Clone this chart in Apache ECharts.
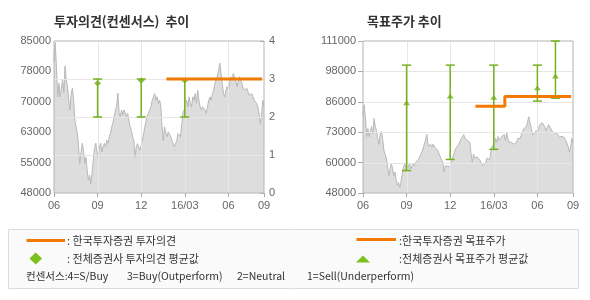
<!DOCTYPE html>
<html><head><meta charset="utf-8">
<script src="https://cdn.jsdelivr.net/npm/echarts@6/dist/echarts.min.js"></script>
<style>html,body{margin:0;padding:0;background:#fff}#c{width:590px;height:300px}</style>
</head><body><div id="c"></div><script>
// Closing price (2015-06 ~ 2016-09)
const price = [
80000,84600,78700,71400,74700,71400,73500,75500,72500,78900,
75500,73900,70600,68200,72300,73500,70600,65700,64100,62500,
59200,55200,57700,60100,58400,55200,56700,53500,51100,52300,
50300,52800,56000,58900,60100,58000,56700,59200,60100,58000,
59200,60100,59200,60800,60100,61700,62500,64100,65000,66600,
68200,69000,72300,67400,66600,68200,67000,68200,68600,66600,
67400,65700,64100,63300,61700,60800,56800,59200,60000,59200,
58400,58800,60800,62500,64100,65700,66900,66600,68200,69000,
70600,71400,72200,70600,71400,69800,70600,69000,64100,60800,
64100,62500,61700,62900,62500,61700,60800,60000,59200,60000,
60800,62500,62900,61700,62100,67400,68200,67800,70600,69000,
71400,69800,69000,71400,70600,72200,69800,73000,70600,69000,
68200,69000,69400,68200,67400,69000,70600,71400,70600,72200,
73000,74700,75500,75500,77500,79600,77100,74700,72200,71400,
73000,73900,73000,74700,76300,75500,77100,77500,75500,73900,
75000,76300,75500,74700,73500,73900,73000,73500,72600,71800,
71400,72200,71400,70600,71000,69800,69000,67400,64900,66900,
70600,69000
];
const xTickPos = [0, 35.5, 71, 106.5, 142, 171];
const xTickLabels = ['06','09','12','16/03','06','09'];
const leftPriceTicks = [48000,55400,62800,70200,77600,85000];
const leftPriceLabels = ['48000','55000','63000','70000','78000','85000'];
const opinionTicks = [1,2,3];
const rightPriceTicks = [48000,60600,73200,85800,98400,111000];
const rightPriceLabels = ['48000','60000','73000','86000','98000','111000'];

// 전체증권사 투자의견 (range & average)
const opinionX = [35.5, 71, 106.5];
const opinionHigh = [3, 3, 3];
const opinionLow = [2, 2, 2];
const opinionAvg = [2.89, 2.96, 2.96];
// 한국투자증권 투자의견
const kisOpinionX = [91.5, 169.5];
const kisOpinion = [3, 3];

// 전체증권사 목표주가 (range & average)
const targetX = [35.5, 71, 106.5, 142, 156.7];
const targetHigh = [101000, 101000, 101000, 101000, 111000];
const targetLow = [57300, 61900, 66100, 86100, 87300];
const targetAvg = [85400, 88200, 87700, 91600, 96500];
// 한국투자증권 목표주가
const kisTargetX = [91.5, 115.5, 169.5];
const kisTarget = [84000, 88000, 88000];

const GREEN = '#74b21a';
const ORANGE = '#f27a00';
const GRIDC = '#e7e7e7';
const LABEL = {color:'#666', fontSize:11, fontFamily:'Liberation Sans, Arial'};

function errRender(params, api){
  const x = api.value(0), lo = api.value(1), hi = api.value(2);
  const a = api.coord([x, hi]), b = api.coord([x, lo]);
  const w = 4.5;
  const style = {stroke: GREEN, lineWidth: 1.5, fill: null};
  return {type:'group', children:[
    {type:'line', shape:{x1:a[0],y1:a[1],x2:b[0],y2:b[1]}, style:style},
    {type:'line', shape:{x1:a[0]-w,y1:a[1],x2:a[0]+w,y2:a[1]}, style:style},
    {type:'line', shape:{x1:b[0]-w,y1:b[1],x2:b[0]+w,y2:b[1]}, style:style}
  ]};
}
// grid lines drawn on top of the price area (as in the reference)
function gridLineRender(dim){
  return function(params, api){
    const p = api.coord([api.value(0), api.value(1)]);
    const cs = params.coordSys;
    let shape;
    if (dim === 'x') {
      shape = {x1:Math.round(p[0])+0.5, y1:cs.y, x2:Math.round(p[0])+0.5, y2:cs.y+cs.height};
    } else {
      shape = {x1:cs.x, y1:Math.round(p[1])+0.5, x2:cs.x+cs.width, y2:Math.round(p[1])+0.5};
    }
    return {type:'line', shape:shape, style:{stroke:GRIDC, lineWidth:1}};
  };
}
const priceData = price.map((v,i)=>[i,v]);

function xAxisFor(g){
  return {type:'value', gridIndex:g, min:0, max:171,
    axisLine:{show:false},
    axisTick:{show:true, customValues:xTickPos, length:4, lineStyle:{color:'#aaa'}},
    axisLabel:Object.assign({customValues:xTickPos, margin:7,
      formatter:(v)=>{const k=xTickPos.indexOf(v);return k>=0?xTickLabels[k]:'';}}, LABEL),
    splitLine:{show:false}};
}

const chart = echarts.init(document.getElementById('c'), null, {renderer:'canvas'});
chart.setOption({
  animation:false,
  backgroundColor:'#fff',
  grid:[
    {left:54, top:41, width:210, height:152, show:true, borderColor:'#b4b4b4', borderWidth:1, backgroundColor:'transparent', z:4},
    {left:363, top:41, width:210, height:152, show:true, borderColor:'#b4b4b4', borderWidth:1, backgroundColor:'transparent', z:4}
  ],
  xAxis:[xAxisFor(0), xAxisFor(1)],
  yAxis:[
    {type:'value', gridIndex:0, position:'left', min:48000, max:85000,
      axisLine:{show:false}, axisTick:{show:false, customValues:leftPriceTicks},
      axisLabel:Object.assign({customValues:leftPriceTicks, margin:3,
        formatter:(v)=>{const k=leftPriceTicks.indexOf(v);return k>=0?leftPriceLabels[k]:'';}}, LABEL),
      splitLine:{show:false}},
    {type:'value', gridIndex:0, position:'right', min:0, max:4, interval:1,
      axisLine:{show:false}, axisTick:{show:true, inside:true, length:4, lineStyle:{color:'#aaa'}},
      axisLabel:Object.assign({margin:5}, LABEL),
      splitLine:{show:false}},
    {type:'value', gridIndex:1, position:'left', min:48000, max:111000,
      axisLine:{show:false}, axisTick:{show:true, customValues:rightPriceTicks, length:5, lineStyle:{color:'#aaa'}},
      axisLabel:Object.assign({customValues:rightPriceTicks, margin:7,
        formatter:(v)=>{const k=rightPriceTicks.indexOf(v);return k>=0?rightPriceLabels[k]:'';}}, LABEL),
      splitLine:{show:false}}
  ],
  series:[
    {type:'line', xAxisIndex:0, yAxisIndex:0, data:priceData, symbol:'none', z:1,
      lineStyle:{color:'#b8b8b8', width:1}, areaStyle:{color:'#dddddd', origin:'start', opacity:1}},
    {type:'custom', xAxisIndex:0, yAxisIndex:0, renderItem:gridLineRender('x'), z:2, silent:true, clip:false,
      data:xTickPos.slice(1,-1).map(x=>[x, 60000])},
    {type:'custom', xAxisIndex:0, yAxisIndex:1, renderItem:gridLineRender('y'), z:2, silent:true, clip:false,
      data:opinionTicks.map(v=>[50, v])},
    {type:'custom', xAxisIndex:0, yAxisIndex:1, renderItem:errRender, z:6,
      data:opinionX.map((x,i)=>[x, opinionLow[i], opinionHigh[i]])},
    {type:'scatter', xAxisIndex:0, yAxisIndex:1, symbol:'diamond', symbolSize:[7,6], z:7,
      itemStyle:{color:GREEN}, data:opinionX.map((x,i)=>[x, opinionAvg[i]])},
    {type:'line', xAxisIndex:0, yAxisIndex:1, symbol:'none', z:8,
      lineStyle:{color:ORANGE, width:3}, data:kisOpinionX.map((x,i)=>[x, kisOpinion[i]])},

    {type:'line', xAxisIndex:1, yAxisIndex:2, data:priceData, symbol:'none', z:1,
      lineStyle:{color:'#b8b8b8', width:1}, areaStyle:{color:'#dddddd', origin:'start', opacity:1}},
    {type:'custom', xAxisIndex:1, yAxisIndex:2, renderItem:gridLineRender('x'), z:2, silent:true, clip:false,
      data:xTickPos.slice(1,-1).map(x=>[x, 60000])},
    {type:'custom', xAxisIndex:1, yAxisIndex:2, renderItem:gridLineRender('y'), z:2, silent:true, clip:false,
      data:rightPriceTicks.slice(1,-1).map(v=>[50, v])},
    {type:'custom', xAxisIndex:1, yAxisIndex:2, renderItem:errRender, z:6,
      data:targetX.map((x,i)=>[x, targetLow[i], targetHigh[i]])},
    {type:'scatter', xAxisIndex:1, yAxisIndex:2, symbol:'triangle', symbolSize:[7,5], z:7,
      itemStyle:{color:GREEN}, data:targetX.map((x,i)=>[x, targetAvg[i]])},
    {type:'line', xAxisIndex:1, yAxisIndex:2, symbol:'none', step:'end', z:8,
      lineStyle:{color:ORANGE, width:3}, data:kisTargetX.map((x,i)=>[x, kisTarget[i]])}
  ],
  graphic:[
    {type:'text', x:54, y:21, style:{text:'투자의견(컨센서스)  추이', font:'bold 13px "Noto Sans CJK KR"', fill:'#333', verticalAlign:'middle'}},
    {type:'text', x:367, y:21, style:{text:'목표주가 추이', font:'bold 13px "Noto Sans CJK KR"', fill:'#333', verticalAlign:'middle'}},
    {type:'rect', shape:{x:8.5, y:229.5, width:570, height:59}, style:{fill:'#fafafa', stroke:'#dcdcdc', lineWidth:1}, z:-1},
    {type:'line', shape:{x1:26.5, y1:240.5, x2:65, y2:240.5}, style:{stroke:ORANGE, lineWidth:3}},
    {type:'text', x:67, y:241, style:{text:': 한국투자증권 투자의견', font:'11px "Noto Sans CJK KR"', fill:'#333', verticalAlign:'middle'}},
    {type:'polygon', shape:{points:[[29.5,258.5],[35.7,252.5],[42,258.5],[35.7,264.5]]}, style:{fill:'#7cc11b'}},
    {type:'text', x:67, y:259, style:{text:': 전체증권사 투자의견 평균값', font:'11px "Noto Sans CJK KR"', fill:'#333', verticalAlign:'middle'}},
    {type:'line', shape:{x1:356.5, y1:239.5, x2:396, y2:239.5}, style:{stroke:ORANGE, lineWidth:3}},
    {type:'text', x:399, y:241, style:{text:':한국투자증권 목표주가', font:'11px "Noto Sans CJK KR"', fill:'#333', verticalAlign:'middle'}},
    {type:'polygon', shape:{points:[[356,262.5],[363,255.5],[370,262.5]]}, style:{fill:'#7cc11b'}},
    {type:'text', x:399, y:259, style:{text:':전체증권사 목표주가 평균값', font:'11px "Noto Sans CJK KR"', fill:'#333', verticalAlign:'middle'}},
    {type:'text', x:26, y:276, style:{text:'컨센서스:4=S/Buy', font:'10.5px "Noto Sans CJK KR"', fill:'#333', verticalAlign:'middle'}},
    {type:'text', x:127, y:276, style:{text:'3=Buy(Outperform)', font:'10.5px "Noto Sans CJK KR"', fill:'#333', verticalAlign:'middle'}},
    {type:'text', x:237, y:276, style:{text:'2=Neutral', font:'10.5px "Noto Sans CJK KR"', fill:'#333', verticalAlign:'middle'}},
    {type:'text', x:307, y:276, style:{text:'1=Sell(Underperform)', font:'10.5px "Noto Sans CJK KR"', fill:'#333', verticalAlign:'middle'}}
  ]
});
</script></body></html>
